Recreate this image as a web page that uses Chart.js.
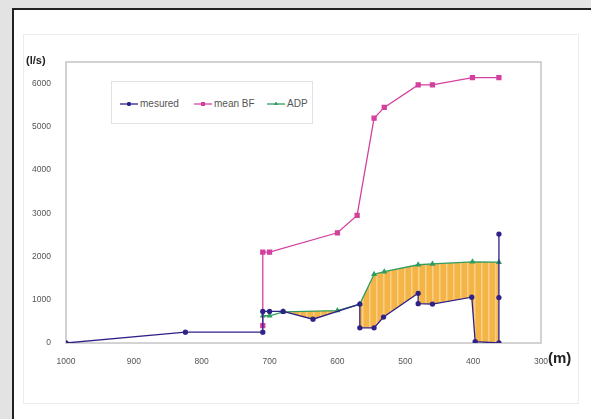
<!DOCTYPE html>
<html>
<head>
<meta charset="utf-8">
<script src="https://cdn.jsdelivr.net/npm/chart.js@4/dist/chart.umd.min.js"></script>
<style>
  body { margin: 0; width: 591px; height: 419px; background: #e3e3e3; overflow: hidden; font-family: "Liberation Sans", Arial, sans-serif; }
  #panel { position: absolute; left: 12px; top: 8px; width: 579px; height: 411px; background: #fff; border-left: 2px solid #222; border-top: 2px solid #222; box-sizing: border-box; }
  #frame { position: absolute; left: 23px; top: 34px; width: 556px; height: 370px; border: 1px solid #ececec; box-sizing: border-box; }
  #chart { position: absolute; left: 0; top: 0; }
  #legend { position: absolute; left: 111px; top: 81px; width: 202px; height: 43px; border: 1px solid #e2e2e2; box-sizing: border-box; background: #fff; }
  .item { position: absolute; top: 16px; height: 12px; font-size: 10px; line-height: 12px; color: #555; white-space: nowrap; }
  .item canvas { vertical-align: top; margin-right: 2px; }
  .unit { position: absolute; font-weight: bold; color: #222; }
</style>
</head>
<body>
<div id="panel"></div>
<div id="frame"></div>
<canvas id="chart" width="591" height="419"></canvas>
<div id="legend"></div>
<div class="unit" style="left:26px; top:54px; font-size:11px;">(l/s)</div>
<div class="unit" style="left:548px; top:349px; font-size:15px;">(m)</div>
<script>
// distance (m) and flow (l/s)
const measuredX = [1000, 824, 710, 710, 700, 680, 636, 567, 567, 546, 532, 481, 481, 460, 402, 397, 362, 362, 362];
const measuredY = [0, 250, 250, 730, 730, 730, 550, 900, 350, 350, 600, 1150, 910, 900, 1060, 30, 0, 1050, 2520];

const meanBfX = [710, 710, 700, 600, 571, 546, 531, 481, 460, 401, 362];
const meanBfY = [400, 2100, 2100, 2550, 2950, 5200, 5450, 5970, 5970, 6140, 6140];

const adpX = [710, 700, 680, 600, 567, 546, 531, 481, 460, 401, 362];
const adpY = [630, 630, 720, 750, 900, 1590, 1650, 1810, 1830, 1877, 1870];

const xTicks = [1000, 900, 800, 700, 600, 500, 400, 300];
const yTicks = [0, 1000, 2000, 3000, 4000, 5000, 6000];

const seriesNames = ["mesured", "mean BF", "ADP"];
const seriesColors = ["#2f2287", "#d4409e", "#2f9e60"];
const seriesMarkers = ["circle", "rect", "triangle"];

function toPoints(xs, ys) {
  return xs.map((x, i) => ({ x: x, y: ys[i] }));
}

// striped orange fill between ADP and measured
function stripePattern() {
  const c = document.createElement("canvas");
  c.width = 7;
  c.height = 4;
  const g = c.getContext("2d");
  g.fillStyle = "#f4b446";
  g.fillRect(0, 0, 7, 4);
  g.fillStyle = "#f9d08a";
  g.fillRect(5, 0, 1.5, 4);
  return g.createPattern(c, "repeat");
}

const frameBox = {
  id: "frameBox",
  beforeDatasetsDraw(chart) {
    const { ctx, chartArea: a } = chart;
    ctx.save();
    ctx.strokeStyle = "#c4c4c4";
    ctx.lineWidth = 1.5;
    ctx.strokeRect(a.left, a.top, a.right - a.left, a.bottom - a.top);
    ctx.restore();
  },
};

const tickFont = { family: "Liberation Sans", size: 8.5 };

const chart = new Chart(document.getElementById("chart"), {
  type: "line",
  data: {
    datasets: [
      {
        label: seriesNames[0],
        data: toPoints(measuredX, measuredY),
        borderColor: seriesColors[0],
        backgroundColor: seriesColors[0],
        borderWidth: 1.3,
        pointStyle: seriesMarkers[0],
        pointRadius: 2,
        fill: false,
      },
      {
        label: seriesNames[1],
        data: toPoints(meanBfX, meanBfY),
        borderColor: seriesColors[1],
        backgroundColor: seriesColors[1],
        borderWidth: 1.3,
        pointStyle: seriesMarkers[1],
        pointRadius: 2.8,
        fill: false,
      },
      {
        label: seriesNames[2],
        data: toPoints(adpX, adpY),
        borderColor: seriesColors[2],
        backgroundColor: seriesColors[2],
        borderWidth: 1.3,
        pointStyle: seriesMarkers[2],
        pointRadius: 2.2,
        fill: { target: 0, above: stripePattern(), below: "rgba(0,0,0,0)" },
      },
    ],
  },
  options: {
    responsive: false,
    animation: false,
    layout: { padding: { left: 26, right: 50, top: 62, bottom: 46 } },
    scales: {
      x: {
        type: "linear",
        reverse: true,
        min: 300,
        max: 1000,
        afterBuildTicks: (s) => { s.ticks = xTicks.map((v) => ({ value: v })); },
        afterFit: (s) => { s.height = 30; },
        grid: { display: false },
        border: { display: false },
        ticks: { font: tickFont, color: "#555", padding: 6, maxRotation: 0, callback: (v) => String(v) },
      },
      y: {
        min: 0,
        max: 6500,
        afterBuildTicks: (s) => { s.ticks = yTicks.map((v) => ({ value: v })); },
        afterFit: (s) => { s.width = 40; },
        grid: { display: false },
        border: { display: false },
        ticks: { font: tickFont, color: "#555", padding: 7, callback: (v) => String(v) },
      },
    },
    plugins: {
      legend: { display: false },
      tooltip: { enabled: false },
    },
  },
  plugins: [frameBox],
});

// legend drawn as html, like the Excel legend box
const legendPos = [8, 82, 155];
const legendEl = document.getElementById("legend");
chart.data.datasets.forEach((ds, i) => {
  const item = document.createElement("div");
  item.className = "item";
  item.style.left = legendPos[i] + "px";
  const sw = document.createElement("canvas");
  sw.width = 18;
  sw.height = 12;
  const g = sw.getContext("2d");
  g.strokeStyle = ds.borderColor;
  g.lineWidth = 1.3;
  g.beginPath();
  g.moveTo(0, 6);
  g.lineTo(18, 6);
  g.stroke();
  g.fillStyle = ds.borderColor;
  Chart.helpers.drawPoint(g, { pointStyle: ds.pointStyle, radius: ds.pointRadius, borderWidth: 0 }, 9, 6);
  g.fill();
  item.appendChild(sw);
  item.appendChild(document.createTextNode(ds.label));
  legendEl.appendChild(item);
});
</script>
</body>
</html>
